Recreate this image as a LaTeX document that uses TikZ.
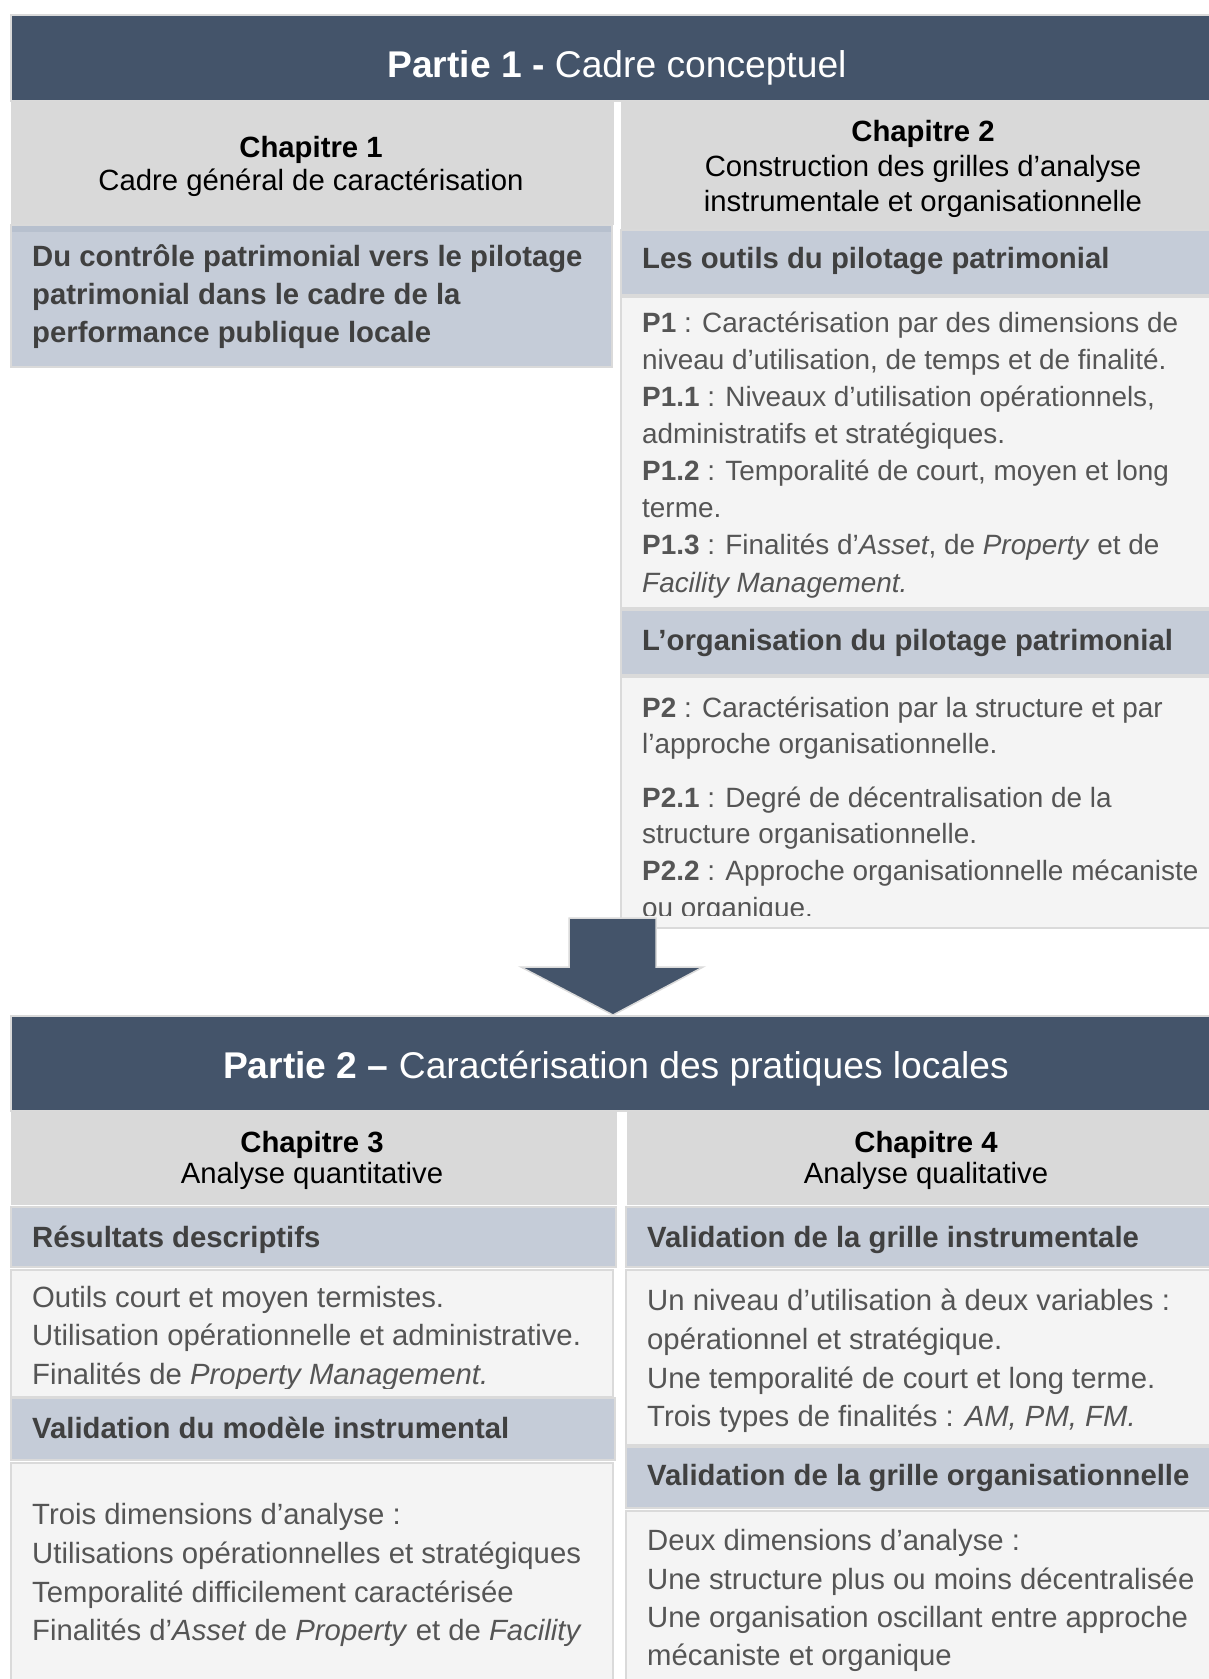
\documentclass[tikz,border=0pt]{standalone}
\usepackage{fontspec}
\setmainfont{Liberation Sans}
\usetikzlibrary{fit}
\definecolor{hdr}{HTML}{44546A}
\definecolor{chapgray}{HTML}{D9D9D9}
\definecolor{bluegray}{HTML}{C5CCD8}
\definecolor{bluedark}{HTML}{B7C0CE}
\definecolor{txtbg}{HTML}{F4F4F4}
\definecolor{edge}{HTML}{DADADA}
\definecolor{headtxt}{HTML}{404040}
\definecolor{bodytxt}{HTML}{555555}
\begin{document}
\begin{tikzpicture}[x=1pt,y=-1pt,
  hdrbox/.style={fill=hdr, draw=edge, line width=1.5pt, inner sep=0pt},
  chapbox/.style={fill=chapgray, draw=none, inner sep=0pt},
  bluebox/.style={fill=bluegray, draw=edge, line width=1.5pt, inner sep=0pt},
  txtbox/.style={fill=txtbg, draw=edge, line width=2pt, inner sep=0pt},
  parttitle/.style={anchor=base, inner sep=0pt, text=white, font=\fontsize{37.2}{44}\selectfont},
  chaptxt/.style={anchor=base, inner sep=0pt, text=black, font=\fontsize{29.3}{34}\selectfont},
  headline/.style={anchor=base west, inner sep=0pt, text=headtxt, font=\bfseries\fontsize{29.3}{34}\selectfont},
  bodyline/.style={anchor=base west, inner sep=0pt, text=bodytxt, font=\fontsize{27.9}{34}\selectfont},
  bodylineb/.style={anchor=base west, inner sep=0pt, text=bodytxt, font=\fontsize{29.3}{34}\selectfont}
]
\clip (0,0) rectangle (1209,1679);
\fill[white] (0,0) rectangle (1209,1679);

% ---------------- Partie 1 ----------------
\node[hdrbox, fit={(11,15) (1230,101)}] (hdr1) {};
\node[parttitle] (hdr1t) at (617,77) {\textbf{Partie 1 -} Cadre conceptuel};

\node[chapbox, fit={(11,101) (614,225)}] (ch1) {};
\node[chaptxt] (ch1a) at (311,157) {\textbf{Chapitre 1}};
\node[chaptxt] (ch1b) at (311,190) {Cadre général de caractérisation};

\node[chapbox, fit={(621,101) (1230,230)}] (ch2) {};
\node[chaptxt] (ch2a) at (923,141) {\textbf{Chapitre 2}};
\node[chaptxt] (ch2b) at (923,176) {Construction des grilles d’analyse};
\node[chaptxt] (ch2c) at (923,211) {instrumentale et organisationnelle};

\node[bluebox, fit={(11,225) (612,367)}] (b1) {};
\fill[bluedark] (12,226) rectangle (611,232);
\node[headline] (b1a) at (32,266) {Du contrôle patrimonial vers le pilotage};
\node[headline] (b1b) at (32,304) {patrimonial dans le cadre de la};
\node[headline] (b1c) at (32,342) {performance publique locale};

\node[bluebox, fit={(621,230) (1230,295)}] (b2) {};
\node[headline] (b2a) at (642,268) {Les outils du pilotage patrimonial};

\node[txtbox, fit={(621,297) (1230,608)}] (t2) {};
\node[bodyline] (p1a) at (642,332) {\textbf{P1} : Caractérisation par des dimensions de};
\node[bodyline] (p1b) at (642,369) {niveau d’utilisation, de temps et de finalité.};
\node[bodyline] (p1c) at (642,406) {\textbf{P1.1} : Niveaux d’utilisation opérationnels,};
\node[bodyline] (p1d) at (642,443) {administratifs et stratégiques.};
\node[bodyline] (p1e) at (642,480) {\textbf{P1.2} : Temporalité de court, moyen et long};
\node[bodyline] (p1f) at (642,517) {terme.};
\node[bodyline] (p1g) at (642,554) {\textbf{P1.3} : Finalités d’\textit{Asset}, de \textit{Property} et de};
\node[bodyline] (p1h) at (642,592) {\textit{Facility Management.}};

\node[bluebox, fit={(621,610) (1230,675)}] (b3) {};
\node[headline] (b3a) at (642,650) {L’organisation du pilotage patrimonial};

\node[txtbox, fit={(621,677) (1230,928)}] (t3) {};
\node[bodyline] (p2a) at (642,717) {\textbf{P2} : Caractérisation par la structure et par};
\node[bodyline] (p2b) at (642,753) {l’approche organisationnelle.};
\node[bodyline] (p2c) at (642,807) {\textbf{P2.1} : Degré de décentralisation de la};
\node[bodyline] (p2d) at (642,843) {structure organisationnelle.};
\node[bodyline] (p2e) at (642,880) {\textbf{P2.2} : Approche organisationnelle mécaniste};
\begin{scope}
  \clip (621,677) rectangle (1230,915);
  \node[bodyline] (p2f) at (642,917) {ou organique.};
\end{scope}

% ---------------- Arrow ----------------
\draw[fill=hdr, draw=edge, line width=1.5pt, line join=miter]
  (569,918) -- (656,918) -- (656,967) -- (703,967) -- (613,1015)
  -- (521,967) -- (569,967) -- cycle;

% ---------------- Partie 2 ----------------
\node[hdrbox, fit={(11,1016) (1230,1111)}] (hdr2) {};
\node[parttitle] (hdr2t) at (616,1078) {\textbf{Partie 2 –} Caractérisation des pratiques locales};

\node[chapbox, fit={(11,1111) (617,1205)}] (ch3) {};
\node[chaptxt] (ch3a) at (312,1152) {\textbf{Chapitre 3}};
\node[chaptxt] (ch3b) at (312,1183) {Analyse quantitative};

\node[chapbox, fit={(627,1111) (1230,1205)}] (ch4) {};
\node[chaptxt] (ch4a) at (926,1152) {\textbf{Chapitre 4}};
\node[chaptxt] (ch4b) at (926,1183) {Analyse qualitative};

% left column
\node[bluebox, fit={(11,1207) (616,1267)}] (b4) {};
\node[headline] (b4a) at (32,1247) {Résultats descriptifs};

\node[txtbox, fit={(11,1270) (613,1397)}] (t4) {};
\node[bodylineb] (r1) at (32,1307) {Outils court et moyen termistes.};
\node[bodylineb] (r2) at (32,1345) {Utilisation opérationnelle et administrative.};
\begin{scope}
  \clip (11,1270) rectangle (613,1388);
  \node[bodylineb] (r3) at (32,1384) {Finalités de \textit{Property Management.}};
\end{scope}

\node[bluebox, fit={(11,1398) (615,1460)}] (b5) {};
\node[headline] (b5a) at (32,1438) {Validation du modèle instrumental};

\node[txtbox, fit={(11,1463) (613,1700)}] (t5) {};
\node[bodylineb] (m1) at (32,1524) {Trois dimensions d’analyse :};
\node[bodylineb] (m2) at (32,1563) {Utilisations opérationnelles et stratégiques};
\node[bodylineb] (m3) at (32,1602) {Temporalité difficilement caractérisée};
\node[bodylineb] (m4) at (32,1640) {Finalités d’\textit{Asset} de \textit{Property} et de \textit{Facility}};

% right column
\node[bluebox, fit={(626,1207) (1230,1267)}] (b6) {};
\node[headline] (b6a) at (647,1247) {Validation de la grille instrumentale};

\node[txtbox, fit={(626,1270) (1230,1445)}] (t6) {};
\node[bodylineb] (g1) at (647,1310) {Un niveau d’utilisation à deux variables :};
\node[bodylineb] (g2) at (647,1349) {opérationnel et stratégique.};
\node[bodylineb] (g3) at (647,1388) {Une temporalité de court et long terme.};
\node[bodylineb] (g4) at (647,1426) {Trois types de finalités : \textit{AM, PM, FM.}};

\node[bluebox, fit={(626,1447) (1230,1508)}] (b7) {};
\node[headline] (b7a) at (647,1485) {Validation de la grille organisationnelle};

\node[txtbox, fit={(626,1511) (1230,1700)}] (t7) {};
\node[bodylineb] (o1) at (647,1550) {Deux dimensions d’analyse :};
\node[bodylineb] (o2) at (647,1589) {Une structure plus ou moins décentralisée};
\node[bodylineb] (o3) at (647,1627) {Une organisation oscillant entre approche};
\node[bodylineb] (o4) at (647,1665) {mécaniste et organique};
\end{tikzpicture}
\end{document}
